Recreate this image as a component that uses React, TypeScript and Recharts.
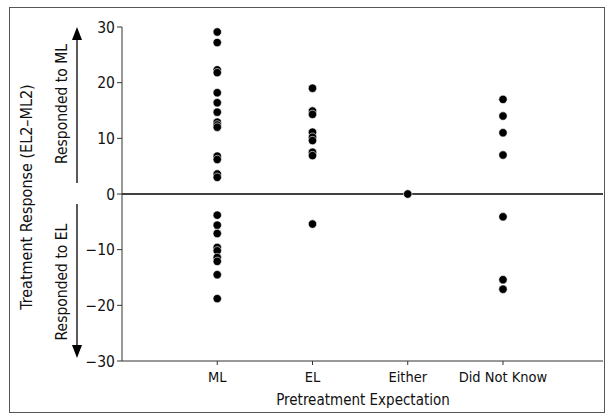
import React from "react";
import {
  ScatterChart,
  Scatter,
  XAxis,
  YAxis,
  ReferenceLine,
} from "recharts";

// pretreatment expectation groups, x positions 1..4
const categories = ["ML", "EL", "Either", "Did Not Know"];

// treatment response (EL2 - ML2) per participant
const mlValues = [
  29.1, 27.2, 22.3, 21.8, 18.2, 16.4, 14.7, 12.9, 12.4, 12.0, 6.8, 6.2, 3.6, 3.0,
  -3.8, -5.6, -7.1, -9.6, -10.2, -11.4, -12.1, -14.5, -18.8,
];
const elValues = [19.0, 14.9, 14.3, 11.1, 10.2, 9.6, 7.5, 6.9, -5.4];
const eitherValues = [0];
const dnkValues = [17.0, 14.0, 11.0, 7.0, -4.1, -15.4, -17.1];

const yTicks = [-30, -20, -10, 0, 10, 20, 30];

const groups = [mlValues, elValues, eitherValues, dnkValues];
const points = groups.flatMap((vals, i) => vals.map((v) => ({ x: i + 1, y: v })));

const FONT = "'Liberation Sans Narrow', 'DejaVu Sans Condensed', Arial, sans-serif";

function Dot(props: any) {
  const { cx, cy } = props;
  if (cx == null || cy == null) return null;
  return <circle cx={cx} cy={cy} r={4.2} fill="#000" stroke="#fff" strokeWidth={0.6} />;
}

export default function App() {
  return (
    <div style={{ position: "absolute", left: 0, top: 0, width: 610, height: 420, background: "#fff" }}>
      <div
        style={{
          position: "absolute",
          left: 9,
          top: 7,
          width: 594,
          height: 404,
          border: "1px solid #555",
        }}
      />
      <ScatterChart
        width={610}
        height={420}
        margin={{ top: 27, right: 7, bottom: 19, left: 0 }}
        style={{ position: "absolute", left: 0, top: 0 }}
      >
        <XAxis
          type="number"
          dataKey="x"
          domain={[0, 5.05]}
          ticks={[1, 2, 3, 4]}
          tickFormatter={(v: number) => categories[v - 1] ?? ""}
          height={40}
          tickSize={4}
          tickMargin={7}
          stroke="#333"
          tick={{ fill: "#111", fontSize: 14.5, fontFamily: FONT }}
          allowDataOverflow
        />
        <YAxis
          type="number"
          dataKey="y"
          domain={[-30, 30]}
          ticks={yTicks}
          width={122}
          tickSize={5}
          tickMargin={2}
          stroke="#333"
          tick={{ fill: "#111", fontSize: 15.5, fontFamily: FONT }}
          tickFormatter={(v: number) => (v < 0 ? "\u2212" + Math.abs(v) : String(v))}
        />
        <ReferenceLine y={0} stroke="#000" strokeWidth={1.3} />
        <Scatter data={points} shape={<Dot />} isAnimationActive={false} />
      </ScatterChart>
      <svg
        width={610}
        height={420}
        style={{ position: "absolute", left: 0, top: 0, pointerEvents: "none" }}
      >
        <line x1={77} y1={29} x2={77} y2={183} stroke="#000" strokeWidth={1.3} />
        <path d="M72,40 L77,27 L82,40 Z" fill="#000" />
        <line x1={77} y1={204} x2={77} y2={356} stroke="#000" strokeWidth={1.3} />
        <path d="M72,345 L77,358 L82,345 Z" fill="#000" />
        <text
          x={62}
          y={104}
          transform="rotate(-90 62 104)"
          textAnchor="middle"
          dominantBaseline="middle"
          fontFamily={FONT}
          fontSize={15.5}
          fill="#111"
        >
          Responded to ML
        </text>
        <text
          x={62}
          y={282}
          transform="rotate(-90 62 282)"
          textAnchor="middle"
          dominantBaseline="middle"
          fontFamily={FONT}
          fontSize={15.5}
          fill="#111"
        >
          Responded to EL
        </text>
        <text
          x={27}
          y={197}
          transform="rotate(-90 27 197)"
          textAnchor="middle"
          dominantBaseline="middle"
          fontFamily={FONT}
          fontSize={16}
          fill="#111"
        >
          Treatment Response (EL2{"\u2013"}ML2)
        </text>
        <text
          x={363}
          y={400}
          textAnchor="middle"
          dominantBaseline="middle"
          fontFamily={FONT}
          fontSize={15}
          fill="#111"
        >
          Pretreatment Expectation
        </text>
      </svg>
    </div>
  );
}
